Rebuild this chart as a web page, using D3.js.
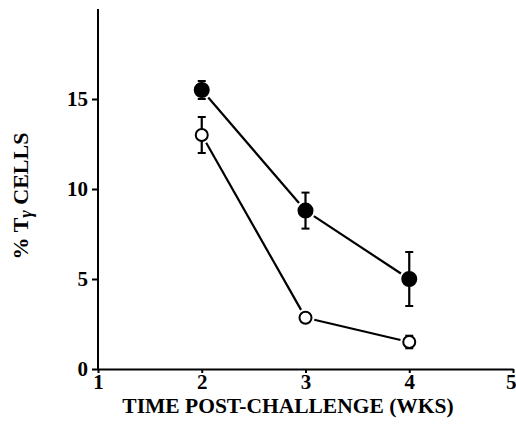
<!DOCTYPE html>
<html><head><meta charset="utf-8">
<script src="https://cdn.jsdelivr.net/npm/d3@7"></script>
<style>body{margin:0;background:#fff}svg{display:block}</style>
</head><body>
<script>
const weeks = [2, 3, 4];
const filledMean = [15.5, 8.8, 5.0];
const filledErr = [0.5, 1.0, 1.5];
const openMean = [13.0, 2.85, 1.5];
const openErr = [1.0, 0, 0.35];
const xTicks = [1, 2, 3, 4, 5];
const yTicks = [0, 5, 10, 15];

const W = 516, H = 436;
const svg = d3.select("body").append("svg").attr("width", W).attr("height", H);
const x = d3.scaleLinear().domain([1, 5]).range([98, 513]);
const y = d3.scaleLinear().domain([0, 20]).range([369, 9]);
const font = "'Liberation Serif', 'Times New Roman', serif";

// axes
const gx = svg.append("g").attr("transform", `translate(0,${y(0)})`)
  .call(d3.axisBottom(x).tickValues(xTicks).tickFormat(d3.format("d")).tickSize(4).tickSizeOuter(0));
const gy = svg.append("g").attr("transform", `translate(${x(1)},0)`)
  .call(d3.axisLeft(y).tickValues(yTicks).tickFormat(d3.format("d")).tickSize(6).tickSizeOuter(0));
[gx, gy].forEach(g => {
  g.select(".domain").attr("stroke", "#000").attr("stroke-width", 2);
  g.selectAll(".tick line").attr("stroke", "#000").attr("stroke-width", 2);
  g.selectAll(".tick text").attr("font-family", font).attr("font-weight", "bold")
    .attr("font-size", 21).attr("fill", "#000");
});
gy.select(".domain").attr("d", `M0,${y(20)}V${y(0)}`);
gy.selectAll(".tick text").attr("x", -10);
gx.selectAll(".tick text").attr("y", 5);
gx.selectAll(".tick").filter(d => d === 5).select("text")
  .attr("text-anchor", "end").attr("x", W - x(5));

// axis titles
svg.append("text").attr("x", 288).attr("y", 413).attr("text-anchor", "middle")
  .attr("font-family", font).attr("font-weight", "bold").attr("font-size", 21.5)
  .text("TIME POST-CHALLENGE (WKS)");
const yl = svg.append("text").attr("transform", `translate(28,196) rotate(-90)`).attr("text-anchor", "middle")
  .attr("font-family", font).attr("font-weight", "bold").attr("font-size", 22);
yl.append("tspan").text("% T");
yl.append("tspan").attr("font-style", "italic").attr("dy", 4).attr("font-size", 18).text("γ");
yl.append("tspan").attr("dy", -4).text(" CELLS");

function series(mean, err, filled) {
  const pts = weeks.map((w, i) => ({x: x(w), y: y(mean[i]), m: mean[i], e: err[i]}));
  const r = filled ? 7 : 6;
  const gap = r + 3;
  for (let i = 0; i < pts.length - 1; i++) {
    const a = pts[i], b = pts[i + 1];
    const dx = b.x - a.x, dy = b.y - a.y, L = Math.hypot(dx, dy);
    const ux = dx / L, uy = dy / L;
    svg.append("line").attr("x1", a.x + ux * gap).attr("y1", a.y + uy * gap)
      .attr("x2", b.x - ux * gap).attr("y2", b.y - uy * gap)
      .attr("stroke", "#000").attr("stroke-width", 2.2);
  }
  pts.forEach(p => {
    if (p.e > 0) {
      const t = y(p.m + p.e), bt = y(p.m - p.e);
      svg.append("line").attr("x1", p.x).attr("x2", p.x).attr("y1", t).attr("y2", bt)
        .attr("stroke", "#000").attr("stroke-width", 2.2);
      [t, bt].forEach(v => svg.append("line").attr("x1", p.x - 4).attr("x2", p.x + 4)
        .attr("y1", v).attr("y2", v).attr("stroke", "#000").attr("stroke-width", 2));
    }
    svg.append("circle").attr("cx", p.x).attr("cy", p.y).attr("r", r)
      .attr("fill", filled ? "#000" : "#fff").attr("stroke", "#000").attr("stroke-width", 2);
  });
}
series(filledMean, filledErr, true);
series(openMean, openErr, false);
</script>
</body></html>
